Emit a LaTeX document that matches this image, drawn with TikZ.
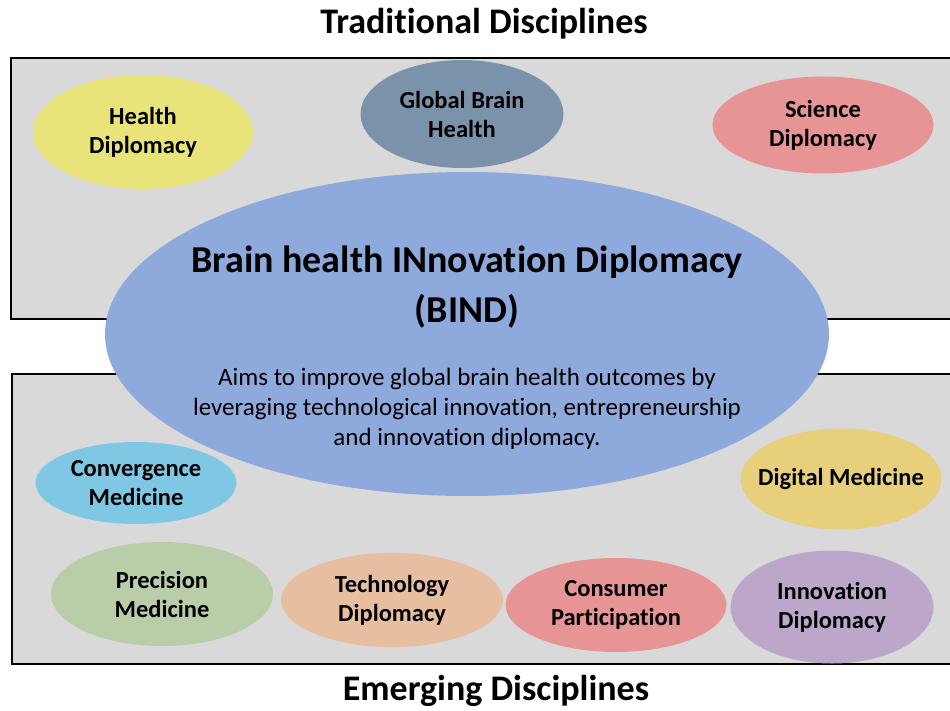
\documentclass[tikz,border=0pt]{standalone}
\usepackage{fontspec}
\setmainfont{Carlito}[Ligatures=NoCommon]
\usetikzlibrary{shapes.geometric}
\definecolor{boxgray}{HTML}{D9D9D9}
\definecolor{cHealth}{HTML}{E8E47A}
\definecolor{cGlobal}{HTML}{7B93AA}
\definecolor{cScience}{HTML}{E79494}
\definecolor{cBind}{HTML}{8EA9DB}
\definecolor{cConv}{HTML}{7FC8E3}
\definecolor{cPrec}{HTML}{B9CDA9}
\definecolor{cTech}{HTML}{E7BFA0}
\definecolor{cCons}{HTML}{E79494}
\definecolor{cDig}{HTML}{E7CF7B}
\definecolor{cInno}{HTML}{BCA7CA}
\tikzset{
  x=1pt, y=-1pt,
  region/.style={fill=boxgray, draw=black, line width=2.8pt},
  blob/.style={ellipse, inner sep=0pt},
  blobtext/.style={align=center, inner sep=0pt,
    font=\fontsize{24.5}{29}\selectfont\bfseries},
  heading/.style={font=\fontsize{36}{40}\selectfont\bfseries},
}
\begin{document}
\begin{tikzpicture}
\useasboundingbox (0,0) rectangle (950,711);
\fill[white] (0,0) rectangle (950,711);
\draw[region] (11,58) rectangle (960,319);
\draw[region] (12,374) rectangle (960,664);
\node[heading] (trad) at (484,24) {Traditional Disciplines};
\node[heading] (emer) at (496,691) {Emerging Disciplines};
\node[ellipse, fill=cBind, minimum width=724pt, minimum height=324pt] (bind) at (467,334) {};
\node[font=\fontsize{38}{50}\selectfont\bfseries, align=center] (bindt) at (467,287) {Brain health INnovation Diplomacy\\(BIND)};
\node[font=\fontsize{25}{30}\selectfont, align=center] (bindd) at (467,409) {Aims to improve global brain health outcomes by\\leveraging technological innovation, entrepreneurship\\and innovation diplomacy.};
\node[blob, fill=cHealth, minimum width=220pt, minimum height=114pt, label={[blobtext]center:{Health\\Diplomacy}}] (health) at (143,132) {};
\node[blob, fill=cGlobal, minimum width=203pt, minimum height=108pt, label={[blobtext]center:{Global Brain\\Health}}] (global) at (462,114) {};
\node[blob, fill=cScience, minimum width=221pt, minimum height=97pt, label={[blobtext]center:{Science\\Diplomacy}}] (science) at (823,125) {};
\node[blob, fill=cConv, minimum width=201pt, minimum height=82pt, label={[blobtext]center:{Convergence\\Medicine}}] (conv) at (136,483) {};
\node[blob, fill=cDig, minimum width=201pt, minimum height=101pt, label={[blobtext]center:{Digital Medicine}}] (dig) at (841,479) {};
\node[blob, fill=cPrec, minimum width=222pt, minimum height=104pt, label={[blobtext]center:{Precision\\Medicine}}] (prec) at (162,594) {};
\node[blob, fill=cTech, minimum width=222pt, minimum height=94pt, label={[blobtext]center:{Technology\\Diplomacy}}] (tech) at (392,600) {};
\node[blob, fill=cCons, minimum width=221pt, minimum height=94pt, label={[blobtext]center:{Consumer\\Participation}}] (cons) at (616,605) {};
\node[blob, fill=cInno, minimum width=203pt, minimum height=113pt, label={[blobtext]center:{Innovation\\Diplomacy}}] (inno) at (832,607) {};
\end{tikzpicture}
\end{document}
